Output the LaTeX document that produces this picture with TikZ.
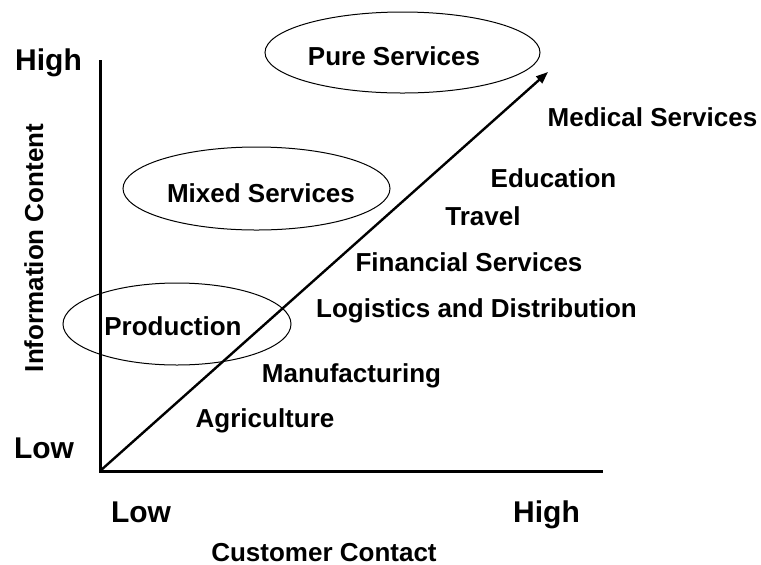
\documentclass[tikz,border=0pt]{standalone}
\usepackage{fontspec}
\setmainfont{Liberation Sans}
\usetikzlibrary{shapes.geometric,arrows.meta}
\begin{document}
\begin{tikzpicture}[x=0.5pt,y=-0.5pt,
	lbl/.style={anchor=base,inner sep=0pt,font=\bfseries\fontsize{13}{15}\selectfont},
	big/.style={anchor=base,inner sep=0pt,font=\bfseries\fontsize{15}{17}\selectfont},
	oval/.style={draw,ellipse,line width=0.5pt,inner sep=0pt},
	axis/.style={line width=1.5pt,line join=miter},
	diag/.style={line width=1.2pt,-{Triangle[length=6pt,width=4.5pt]}}]
			\useasboundingbox(0,0)rectangle(761,564);
			\coordinate (O) at (100,471);
			\coordinate (ytop) at (100,60);
			\coordinate (xend) at (603,471);
			\coordinate (tip) at (548,72);
			\draw[axis](ytop)--(O)--(xend);
			\draw[diag](O)--(tip);
			% ellipses
			\node[oval,minimum width=137.5pt,minimum height=40.5pt] (pure) at (402.5,52.5){};
			\node[oval,minimum width=133.5pt,minimum height=41.5pt] (mixed) at (256.5,188.5){};
			\node[oval,minimum width=114pt,minimum height=41pt] (prod) at (177,324){};
			\node[lbl] (puret) at (394,65){Pure Services};
			\node[lbl] (mixedt) at (261,202){Mixed Services};
			\node[lbl] (prodt) at (173,335){Production};
			% sectors
			\node[lbl] (med) at (652.5,126){Medical Services};
			\node[lbl] (edu) at (553.5,187){Education};
			\node[lbl] (travel) at (483,225){Travel};
			\node[lbl] (fin) at (469,271){Financial Services};
			\node[lbl] (log) at (476.5,317){Logistics and Distribution};
			\node[lbl] (manu) at (351.5,382){Manufacturing};
			\node[lbl] (agri) at (265,427){Agriculture};
			% axes
			\node[big] (yhigh) at (48.5,70){High};
			\node[big] (ylow) at (44,458){Low};
			\node[big] (xlow) at (141,522){Low};
			\node[big] (xhigh) at (546.5,522){High};
			\node[lbl] (xlab) at (324,561){Customer Contact};
			\node[lbl,rotate=90] (ylab) at (43,248){Information Content};
\end{tikzpicture}
\end{document}
